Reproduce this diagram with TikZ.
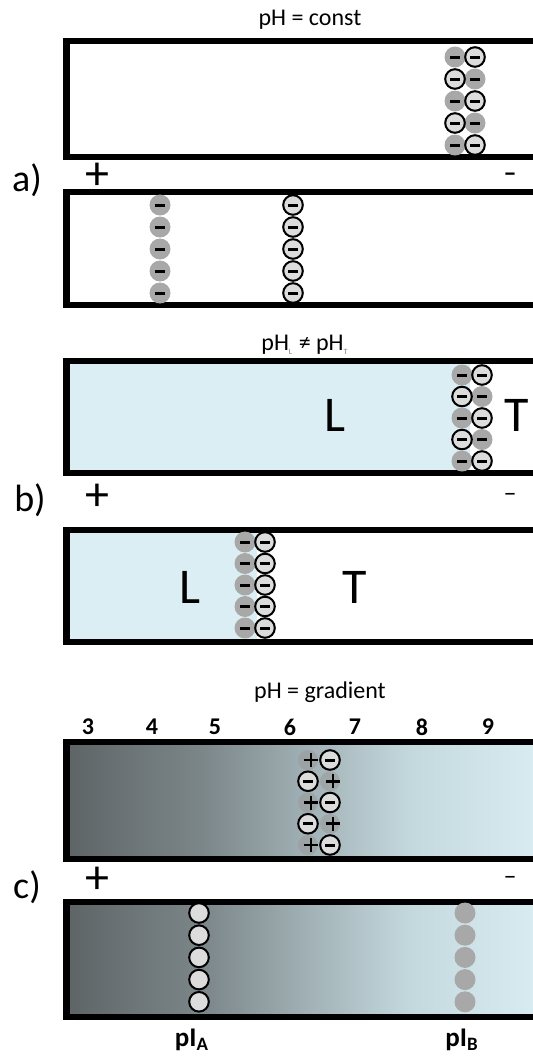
\documentclass[tikz,border=0pt]{standalone}
\usepackage{fontspec}
\setmainfont{Carlito}
\usetikzlibrary{positioning}
\definecolor{gelblue}{HTML}{DBEEF3}
\definecolor{molgray}{HTML}{A8A8A8}
\definecolor{mollight}{HTML}{DCDCDC}
\definecolor{gA}{HTML}{5E6466}
\definecolor{gB}{HTML}{7C878A}
\definecolor{gC}{HTML}{A3B3B7}
\definecolor{gD}{HTML}{C4D9DE}
\definecolor{gE}{HTML}{DCEFF4}
\pgfdeclarehorizontalshading{phgrad}{100bp}{color(0bp)=(gA); color(25bp)=(gA); color(39bp)=(gB); color(50bp)=(gC); color(60bp)=(gD); color(75bp)=(gE); color(100bp)=(gE)}
\newcommand{\minusbar}{\rule{5pt}{1.5pt}}
\newcommand{\plusbar}{\rlap{\rule{7pt}{1.3pt}}\hspace{2.85pt}\rule[-2.85pt]{1.3pt}{7pt}\hspace{2.85pt}}

\begin{document}
\begin{tikzpicture}[x=0.5pt, y=-0.5pt,
  gel/.style={line width=3.2pt},
  molfull/.style={circle, fill=molgray, minimum size=10.5pt, inner sep=0pt},
  molring/.style={circle, fill=mollight, draw=black, line width=1pt, minimum size=9.8pt, inner sep=0pt},
  molpale/.style={circle, fill=gray!80, fill opacity=0.55, text opacity=1, minimum size=10pt, inner sep=0pt},
  title/.style={font=\fontsize{12}{14}\selectfont},
  panel/.style={font=\fontsize{19}{22}\selectfont},
  pole/.style={font=\fontsize{24}{24}\selectfont},
  zone/.style={font=\fontsize{25}{28}\selectfont},
  ph/.style={font=\bfseries\fontsize{12}{14}\selectfont}]
\useasboundingbox (0,0) rectangle (533,1057);
\clip (0,0) rectangle (533,1057);

% a) constant pH
\node[title] (tA) at (310,20) {pH = const};
\draw[gel] (66.5,41) rectangle (560,157);
\draw[gel] (66.5,192) rectangle (560,305);
\node[panel] (la) at (27,180) {a)};
\node[pole] (pa) at (97,176) {+};
\node[font=\bfseries\fontsize{13}{13}\selectfont] (ma) at (510,177) {–};
\foreach \k in {0,...,4}{
  \pgfmathsetmacro{\yy}{57+22*\k}
  \ifodd\k
    \node[molfull] (aT-r\k) at (475,\yy) {\minusbar};
    \node[molring] (aT-l\k) at (455,\yy) {\minusbar};
  \else
    \node[molfull] (aT-l\k) at (455,\yy) {\minusbar};
    \node[molring] (aT-r\k) at (475,\yy) {\minusbar};
  \fi
  \pgfmathsetmacro{\yb}{205+22*\k}
  \node[molfull] (aB-l\k) at (160,\yb) {\minusbar};
  \node[molring] (aB-r\k) at (293,\yb) {\minusbar};
}

% b) pH step between L and T
\node[title] (tB) at (305,345) {pH\textsubscript{\fontsize{4}{4}\selectfont\color{gray}L} ≠ pH\textsubscript{\fontsize{4}{4}\selectfont\color{gray}T}};
\fill[gelblue] (66.5,361) rectangle (470,473);
\draw[gel] (66.5,361) rectangle (560,473);
\fill[gelblue] (66.5,530) rectangle (257,642);
\draw[gel] (66.5,530) rectangle (560,642);
\node[panel] (lb) at (30,500) {b)};
\node[pole] (pb) at (97,497) {+};
\node[font=\fontsize{13}{13}\selectfont] (mb) at (510,497) {–};
\node[zone] (zL1) at (335,415) {L};
\node[zone] (zT1) at (517,415) {T};
\node[zone] (zL2) at (190,587) {L};
\node[zone] (zT2) at (355,587) {T};
\foreach \k in {0,...,4}{
  \pgfmathsetmacro{\yy}{375+21.5*\k}
  \ifodd\k
    \node[molfull] (bT-r\k) at (482,\yy) {\minusbar};
    \node[molring] (bT-l\k) at (462,\yy) {\minusbar};
  \else
    \node[molfull] (bT-l\k) at (462,\yy) {\minusbar};
    \node[molring] (bT-r\k) at (482,\yy) {\minusbar};
  \fi
  \pgfmathsetmacro{\yb}{542+21.5*\k}
  \node[molfull] (bB-l\k) at (245,\yb) {\minusbar};
  \node[molring] (bB-r\k) at (265,\yb) {\minusbar};
}

% c) pH gradient
\node[title] (tC) at (320,692) {pH = gradient};
\foreach \v/\x in {3/88, 4/152, 5/215, 6/290, 7/355, 8/422, 9/488}
  \node[ph] (n\v) at (\x,727) {\v};
\shade[shading=phgrad] (66.5,742) rectangle (560,859);
\draw[gel] (66.5,742) rectangle (560,859);
\shade[shading=phgrad] (66.5,902) rectangle (560,1017);
\draw[gel] (66.5,902) rectangle (560,1017);
\node[panel] (lc) at (27,887) {c)};
\node[pole] (pc) at (97,880) {+};
\node[font=\fontsize{13}{13}\selectfont] (mc) at (510,880) {–};
\foreach \k in {0,...,4}{
  \pgfmathsetmacro{\yy}{760+21.25*\k}
  \ifodd\k
    \node[molpale] (cT-r\k) at (330,\yy) {\plusbar};
    \node[molring] (cT-l\k) at (308,\yy) {\minusbar};
  \else
    \node[molpale] (cT-l\k) at (308,\yy) {\plusbar};
    \node[molring] (cT-r\k) at (330,\yy) {\minusbar};
  \fi
  \pgfmathsetmacro{\yb}{913+22.2*\k}
  \node[molring] (cB-a\k) at (199,\yb) {};
  \node[molfull] (cB-b\k) at (465,\yb) {};
}
\node[ph, font=\bfseries\fontsize{13.5}{15}\selectfont] (piA) at (192,1040) {pI\textsubscript{A}};
\node[ph, font=\bfseries\fontsize{13.5}{15}\selectfont] (piB) at (462,1040) {pI\textsubscript{B}};
\end{tikzpicture}
\end{document}
